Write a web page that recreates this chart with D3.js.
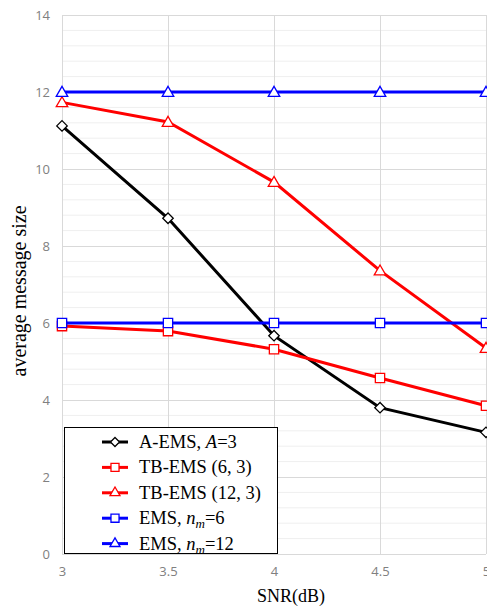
<!DOCTYPE html>
<html><head><meta charset="utf-8">
<script src="https://cdn.jsdelivr.net/npm/d3@7/dist/d3.min.js"></script>
<style>body{margin:0;background:#fff}</style>
</head><body>
<svg id="c" width="487" height="608"></svg>
<script>
const snr = [3, 3.5, 4, 4.5, 5];
const aEms = [11.12, 8.72, 5.67, 3.8, 3.16];
const tb63 = [5.92, 5.79, 5.32, 4.57, 3.85];
const tb123 = [11.73, 11.22, 9.66, 7.36, 5.35];
const ems6 = [6, 6, 6, 6, 6];
const ems12 = [12, 12, 12, 12, 12];
const xTicks = [3, 3.5, 4, 4.5, 5];
const yTicks = [0, 2, 4, 6, 8, 10, 12, 14];

const svg = d3.select("#c");
const L = 62, R = 486, T = 15, B = 554;
const x = d3.scaleLinear().domain([3, 5]).range([L, R]);
const y = d3.scaleLinear().domain([0, 14]).range([B, T]);

// minor gridlines
const minor = d3.range(0, 14.001, 0.4).filter(v => Math.abs(v / 2 - Math.round(v / 2)) > 1e-6);
svg.append("g").selectAll("line").data(minor).join("line")
  .attr("x1", L).attr("x2", R).attr("y1", d => y(d)).attr("y2", d => y(d))
  .attr("stroke", "#efefef").attr("stroke-width", 1);
// major gridlines
svg.append("g").selectAll("line").data(yTicks).join("line")
  .attr("x1", L).attr("x2", R).attr("y1", d => Math.round(y(d)) + 0.5).attr("y2", d => Math.round(y(d)) + 0.5)
  .attr("stroke", "#d9d9d9").attr("stroke-width", 1);
svg.append("g").selectAll("line").data(xTicks).join("line")
  .attr("y1", T).attr("y2", B).attr("x1", d => Math.round(x(d)) + 0.5).attr("x2", d => Math.round(x(d)) + 0.5)
  .attr("stroke", "#d9d9d9").attr("stroke-width", 1);

// axes (labels only)
const yAxis = d3.axisLeft(y).tickValues(yTicks).tickSize(0).tickPadding(12);
const gy = svg.append("g").attr("transform", `translate(${L},0)`).call(yAxis);
gy.select(".domain").remove();
gy.selectAll("text").attr("fill", "#808080").attr("font-family", "Open Sans, Liberation Sans, sans-serif").attr("font-size", 13);
const xAxis = d3.axisBottom(x).tickValues(xTicks).tickSize(0).tickPadding(13).tickFormat(d3.format("~g"));
const gx = svg.append("g").attr("transform", `translate(0,${B})`).call(xAxis);
gx.select(".domain").remove();
gx.selectAll("text").attr("fill", "#808080").attr("font-family", "Open Sans, Liberation Sans, sans-serif").attr("font-size", 13);

svg.append("text").attr("x", 291).attr("y", 602).attr("text-anchor", "middle")
  .attr("font-family", "Liberation Serif, DejaVu Serif, serif").attr("font-size", 18).text("SNR(dB)");
svg.append("text").attr("transform", "translate(26,291) rotate(-90)").attr("text-anchor", "middle")
  .attr("font-family", "Liberation Serif, DejaVu Serif, serif").attr("font-size", 20).text("average message size");

const series = [
  {vals: aEms, color: "#000000", marker: "diamond"},
  {vals: tb63, color: "#ff0000", marker: "square"},
  {vals: tb123, color: "#ff0000", marker: "triangle"},
  {vals: ems6, color: "#0000ff", marker: "square"},
  {vals: ems12, color: "#0000ff", marker: "triangle"}
];
const symType = {diamond: d3.symbolDiamond2, square: d3.symbolSquare2, triangle: d3.symbolTriangle2};
const symSize = {diamond: 70, square: 110, triangle: 95};

const line = d3.line().x((d, i) => x(snr[i])).y(d => y(d));
series.forEach(s => {
  const g = svg.append("g");
  g.append("path").attr("d", line(s.vals)).attr("fill", "none").attr("stroke", s.color).attr("stroke-width", 3);
  g.selectAll("path.m").data(s.vals).join("path").attr("class", "m")
    .attr("transform", (d, i) => `translate(${x(snr[i])},${y(d)})` + (s.marker === "triangle" ? " translate(0,1)" : ""))
    .attr("d", d3.symbol().type(symType[s.marker]).size(symSize[s.marker]))
    .attr("fill", "#fff").attr("stroke", s.marker === "diamond" ? "#000" : s.color).attr("stroke-width", 1.3);
});

// legend
const labels = [
  [{t: "A-EMS, "}, {t: "A", i: true}, {t: "=3"}],
  [{t: "TB-EMS (6, 3)"}],
  [{t: "TB-EMS (12, 3)"}],
  [{t: "EMS, "}, {t: "n", i: true}, {t: "m", i: true, sub: true}, {t: "=6"}],
  [{t: "EMS, "}, {t: "n", i: true}, {t: "m", i: true, sub: true}, {t: "=12"}]
];
const lg = svg.append("g");
lg.append("rect").attr("x", 64.5).attr("y", 427.5).attr("width", 213).attr("height", 126)
  .attr("fill", "#fff").attr("stroke", "#000").attr("stroke-width", 1);
series.forEach((s, k) => {
  const yy = 442 + k * 25.4;
  lg.append("line").attr("x1", 102).attr("x2", 128).attr("y1", yy).attr("y2", yy)
    .attr("stroke", s.color).attr("stroke-width", 3);
  lg.append("path").attr("transform", `translate(115,${yy})`)
    .attr("d", d3.symbol().type(symType[s.marker]).size(symSize[s.marker] * 0.75))
    .attr("fill", "#fff").attr("stroke", s.marker === "diamond" ? "#000" : s.color).attr("stroke-width", 1.3);
  const t = lg.append("text").attr("x", 139).attr("y", yy + 6)
    .attr("font-family", "Liberation Serif, DejaVu Serif, serif").attr("font-size", 18.5);
  labels[k].forEach(p => {
    const ts = t.append("tspan").text(p.t);
    if (p.i) ts.attr("font-style", "italic");
    if (p.sub) ts.attr("font-size", 13).attr("dy", 4);
    else if (p.t.startsWith("=") && labels[k].some(q => q.sub)) ts.attr("dy", -4);
  });
});
</script>
</body></html>
